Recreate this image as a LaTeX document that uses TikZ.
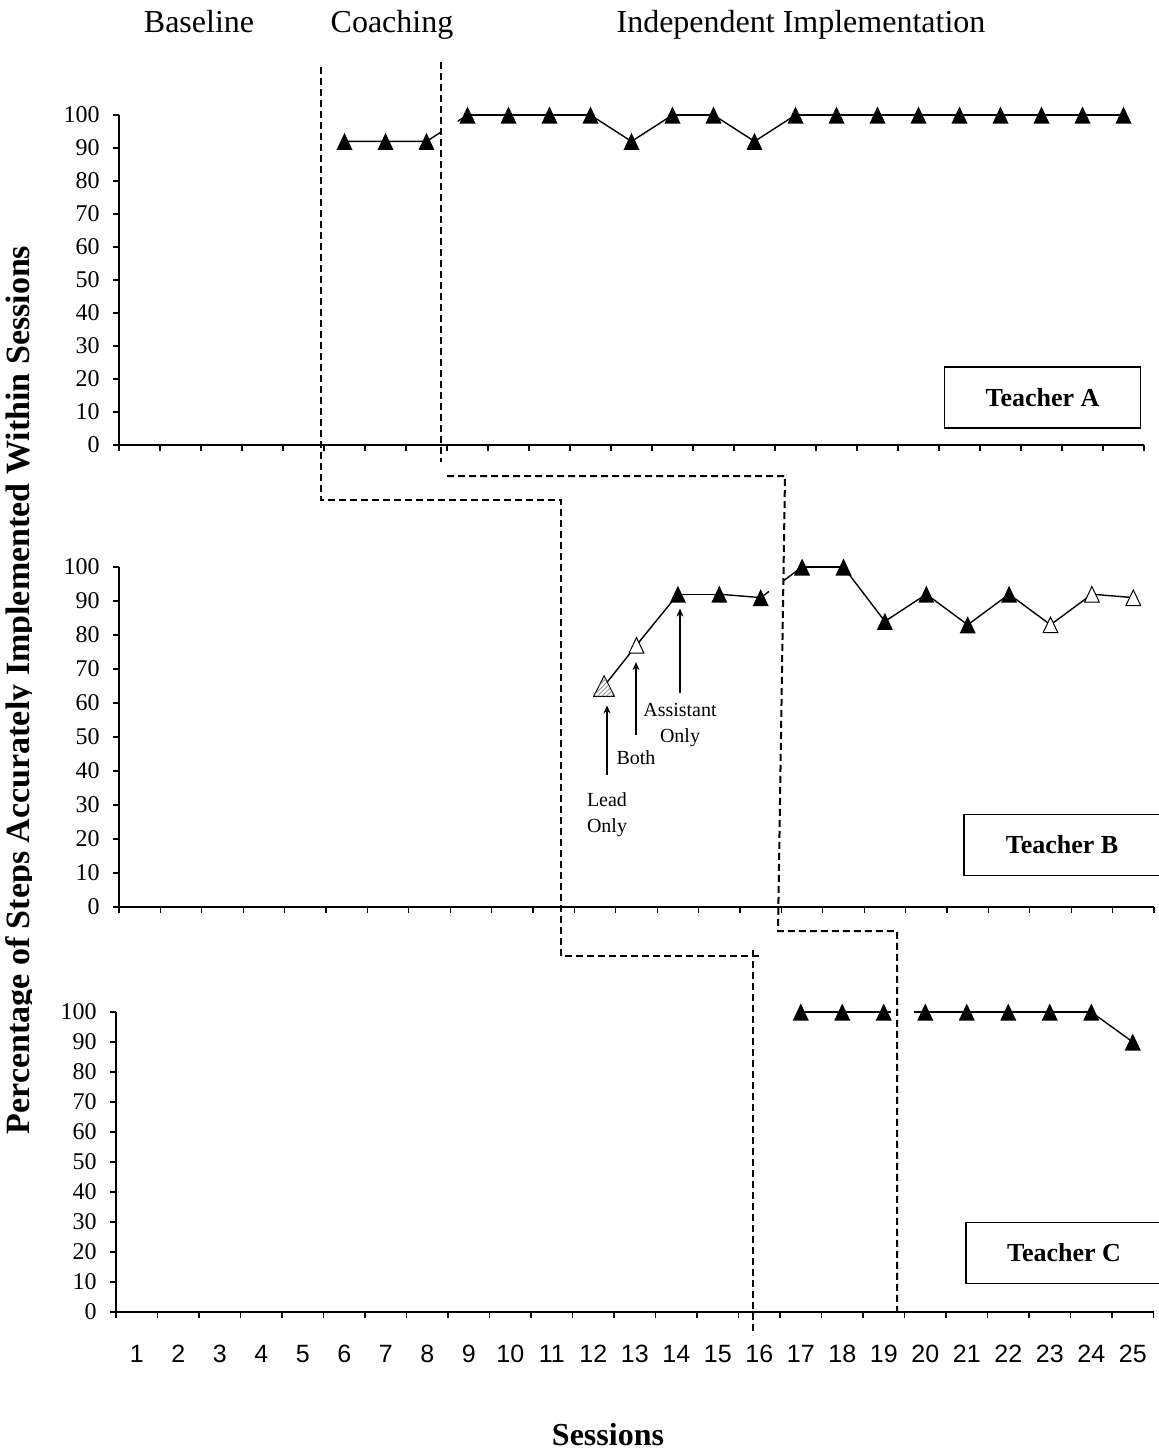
\documentclass[tikz,border=0pt]{standalone}
\usepackage{fontspec}
\setmainfont{Liberation Serif}
\newfontfamily\arialfont{Liberation Sans}
\usetikzlibrary{calc,arrows.meta,patterns.meta,backgrounds}
\tikzset{mk/.style = {rectangle, inner sep=0pt, minimum width=8pt, minimum height=8.5pt,
           path picture={\fill (path picture bounding box.south west) -- (path picture bounding box.south east) -- (path picture bounding box.north) -- cycle;}},
         op/.style = {rectangle, inner sep=0pt, minimum width=8pt, minimum height=8.5pt,
           path picture={\filldraw[fill=white, line width=0.5pt] ([shift={(0.3pt,0.3pt)}]path picture bounding box.south west) -- ([shift={(-0.3pt,0.3pt)}]path picture bounding box.south east) -- ([yshift=-0.4pt]path picture bounding box.north) -- cycle;}},
         hz/.style = {rectangle, inner sep=0pt, minimum width=11pt, minimum height=11pt,
           path picture={\filldraw[fill=white, line width=0.5pt] ([shift={(0.3pt,0.3pt)}]path picture bounding box.south west) -- ([shift={(-0.3pt,0.3pt)}]path picture bounding box.south east) -- ([yshift=-0.4pt]path picture bounding box.north) -- cycle;
             \path[pattern={Lines[angle=45, distance=1.6pt, line width=0.4pt]}, pattern color=gray] ([shift={(0.3pt,0.3pt)}]path picture bounding box.south west) -- ([shift={(-0.3pt,0.3pt)}]path picture bounding box.south east) -- ([yshift=-0.4pt]path picture bounding box.north) -- cycle;}},
         ln/.style = {line width=0.7pt},
         ax/.style = {line width=0.6pt},
         ph/.style = {line width=1pt, dash pattern=on 3.5pt off 2pt},
         ar/.style = {line width=0.6pt, -{Stealth[length=4pt, width=3.5pt]}},
         yl/.style = {anchor=east, inner sep=0pt, xshift=-9.5pt, font=\fontsize{12}{14}\selectfont},
         xl/.style = {below=16.5pt, inner sep=0pt, font=\arialfont\fontsize{12.5}{14}\selectfont},
         ttl/.style = {anchor=base, inner sep=0pt, font=\fontsize{16}{19}\selectfont},
         tb/.style = {draw, line width=0.8pt, minimum width=98pt, minimum height=30.5pt, font=\bfseries\fontsize{13}{15}\selectfont},
         ann/.style = {inner sep=0pt, font=\fontsize{10}{13}\selectfont}}

\begin{document}
\begin{tikzpicture}[x=0.5pt, y=-0.5pt]
  \useasboundingbox (0,0) rectangle (1158,1452);
  \node[ttl] (base) at (199,32) {Baseline};
  \node[ttl] (coach) at (392,32) {Coaching};
  \node[ttl] (indep) at (801,32) {Independent Implementation};
  \begin{scope}
    \clip (0,0) rectangle (31,1452);
    \node[ttl, rotate=90, font=\bfseries\fontsize{17}{20}\selectfont] (ylab) at (30,690) {Percentage of Steps Accurately Implemented Within Sessions};
  \end{scope}
  \node[ttl, font=\bfseries\fontsize{16}{19}\selectfont] (sess) at (608,1445) {Sessions};

  \begin{scope}[shift={(98.5,445)}, x=20.5pt, y=1.65pt]
    \draw[ax] (0.5,100) -- (0.5,0) -- (25.5,0);
    \foreach \i in {0,...,25} \draw[ax] (\i+0.5,0) -- ++(0,-3pt);
    \foreach \v in {0,10,...,100} {\draw[ax] (0.5,\v) -- ++(-3pt,0); \node[yl] (ya\v) at (0.5,\v) {\v};}
    \node[mk] (a6) at (6,92) {}; \node[mk] (a7) at (7,92) {}; \node[mk] (a8) at (8,92) {};
    \node[mk] (a9) at (9,100) {}; \node[mk] (a10) at (10,100) {}; \node[mk] (a11) at (11,100) {};
    \node[mk] (a12) at (12,100) {}; \node[mk] (a13) at (13,92) {}; \node[mk] (a14) at (14,100) {};
    \node[mk] (a15) at (15,100) {}; \node[mk] (a16) at (16,92) {}; \node[mk] (a17) at (17,100) {};
    \node[mk] (a18) at (18,100) {}; \node[mk] (a19) at (19,100) {}; \node[mk] (a20) at (20,100) {};
    \node[mk] (a21) at (21,100) {}; \node[mk] (a22) at (22,100) {}; \node[mk] (a23) at (23,100) {};
    \node[mk] (a24) at (24,100) {}; \node[mk] (a25) at (25,100) {};
    \begin{pgfonlayer}{background}
      \draw[ln] (a6.center) -- (a7.center) -- (a8.center) -- ($(a8)!0.34!(a9)$);
      \draw[ln] ($(a8)!0.76!(a9)$) -- (a9.center);
      \foreach \i [count=\j from 10] in {9,...,24} \draw[ln] (a\i.center) -- (a\j.center);
    \end{pgfonlayer}
  \end{scope}

  \begin{scope}[shift={(98.3,907)}, x=20.7pt, y=1.7pt]
    \draw[ax] (0.5,100) -- (0.5,0) -- (25.5,0);
    \foreach \i in {0,...,25} \draw[ax] (\i+0.5,0) -- ++(0,-3pt);
    \foreach \v in {0,10,...,100} {\draw[ax] (0.5,\v) -- ++(-3pt,0); \node[yl] (yb\v) at (0.5,\v) {\v};}
    \node[hz, xshift=4.5pt] (b12) at (12,65) {}; \node[op] (b13) at (13,77) {};
    \node[mk] (b14) at (14,92) {}; \node[mk] (b15) at (15,92) {}; \node[mk] (b16) at (16,91) {};
    \node[mk] (b17) at (17,100) {}; \node[mk] (b18) at (18,100) {}; \node[mk] (b19) at (19,84) {};
    \node[mk] (b20) at (20,92) {}; \node[mk] (b21) at (21,83) {}; \node[mk] (b22) at (22,92) {};
    \node[op] (b23) at (23,83) {}; \node[op] (b24) at (24,92) {}; \node[op] (b25) at (25,91) {};
    \begin{pgfonlayer}{background}
      \foreach \i [count=\j from 13] in {12,...,15} \draw[ln] (b\i.center) -- (b\j.center);
      \draw[ln] (b16.center) -- ($(b16)!0.2!(b17)$);
      \draw[ln] ($(b16)!0.54!(b17)$) -- (b17.center);
      \foreach \i [count=\j from 18] in {17,...,24} \draw[ln] (b\i.center) -- (b\j.center);
    \end{pgfonlayer}
  \end{scope}

  \begin{scope}[shift={(95.25,1312)}, x=20.75pt, y=1.5pt]
    \draw[ax] (0.5,100) -- (0.5,0) -- (25.5,0);
    \foreach \i in {0,...,25} \draw[ax] (\i+0.5,0) -- ++(0,-3pt);
    \foreach \v in {0,10,...,100} {\draw[ax] (0.5,\v) -- ++(-3pt,0); \node[yl] (yc\v) at (0.5,\v) {\v};}
    \foreach \i in {1,...,25} \node[xl] (x\i) at (\i,0) {\i};
    \node[mk] (c17) at (17,100) {}; \node[mk] (c18) at (18,100) {}; \node[mk] (c19) at (19,100) {};
    \node[mk] (c20) at (20,100) {}; \node[mk] (c21) at (21,100) {}; \node[mk] (c22) at (22,100) {};
    \node[mk] (c23) at (23,100) {}; \node[mk] (c24) at (24,100) {}; \node[mk] (c25) at (25,90) {};
    \begin{pgfonlayer}{background}
      \draw[ln] (c17.center) -- (c18.center) -- (c19.center) -- ($(c19)!0.17!(c20)$);
      \draw[ln] ($(c19)!0.72!(c20)$) -- (c20.center);
      \foreach \i [count=\j from 21] in {20,...,24} \draw[ln] (c\i.center) -- (c\j.center);
    \end{pgfonlayer}
  \end{scope}

  \node[tb] (ta) at (1042.5,397.5) {Teacher A};
  \node[tb] (tbb) at (1062,845) {Teacher B};
  \node[tb] (tc) at (1064,1253) {Teacher C};

  \node[ann, align=left] (lead) at (607,815) {Lead\\Only};
  \node[ann] (both) at (636,758) {Both};
  \node[ann, align=center] (asst) at (680,725) {Assistant\\Only};
  \draw[ar] ([yshift=9pt]lead.north) -- ($(lead.north |- b12.south)+(0,-4pt)$);
  \draw[ar] ([yshift=8pt]both.north) -- ($(both.north |- b13.south)+(0,-4pt)$);
  \draw[ar] ([yshift=5pt]asst.north) -- ($(asst.north |- b14.south)+(0,-2.75pt)$);

  \draw[ph] (321,67) -- (321,500) -- (561,500) -- (561,956) -- (762,956);
  \draw[ph] (753,950) -- (753,1335);
  \draw[ph] (441,62) -- (441,462);
  \draw[ph] (447,476) -- (785,476) -- (778,931) -- (897,931) -- (897,1312);
\end{tikzpicture}
\end{document}
